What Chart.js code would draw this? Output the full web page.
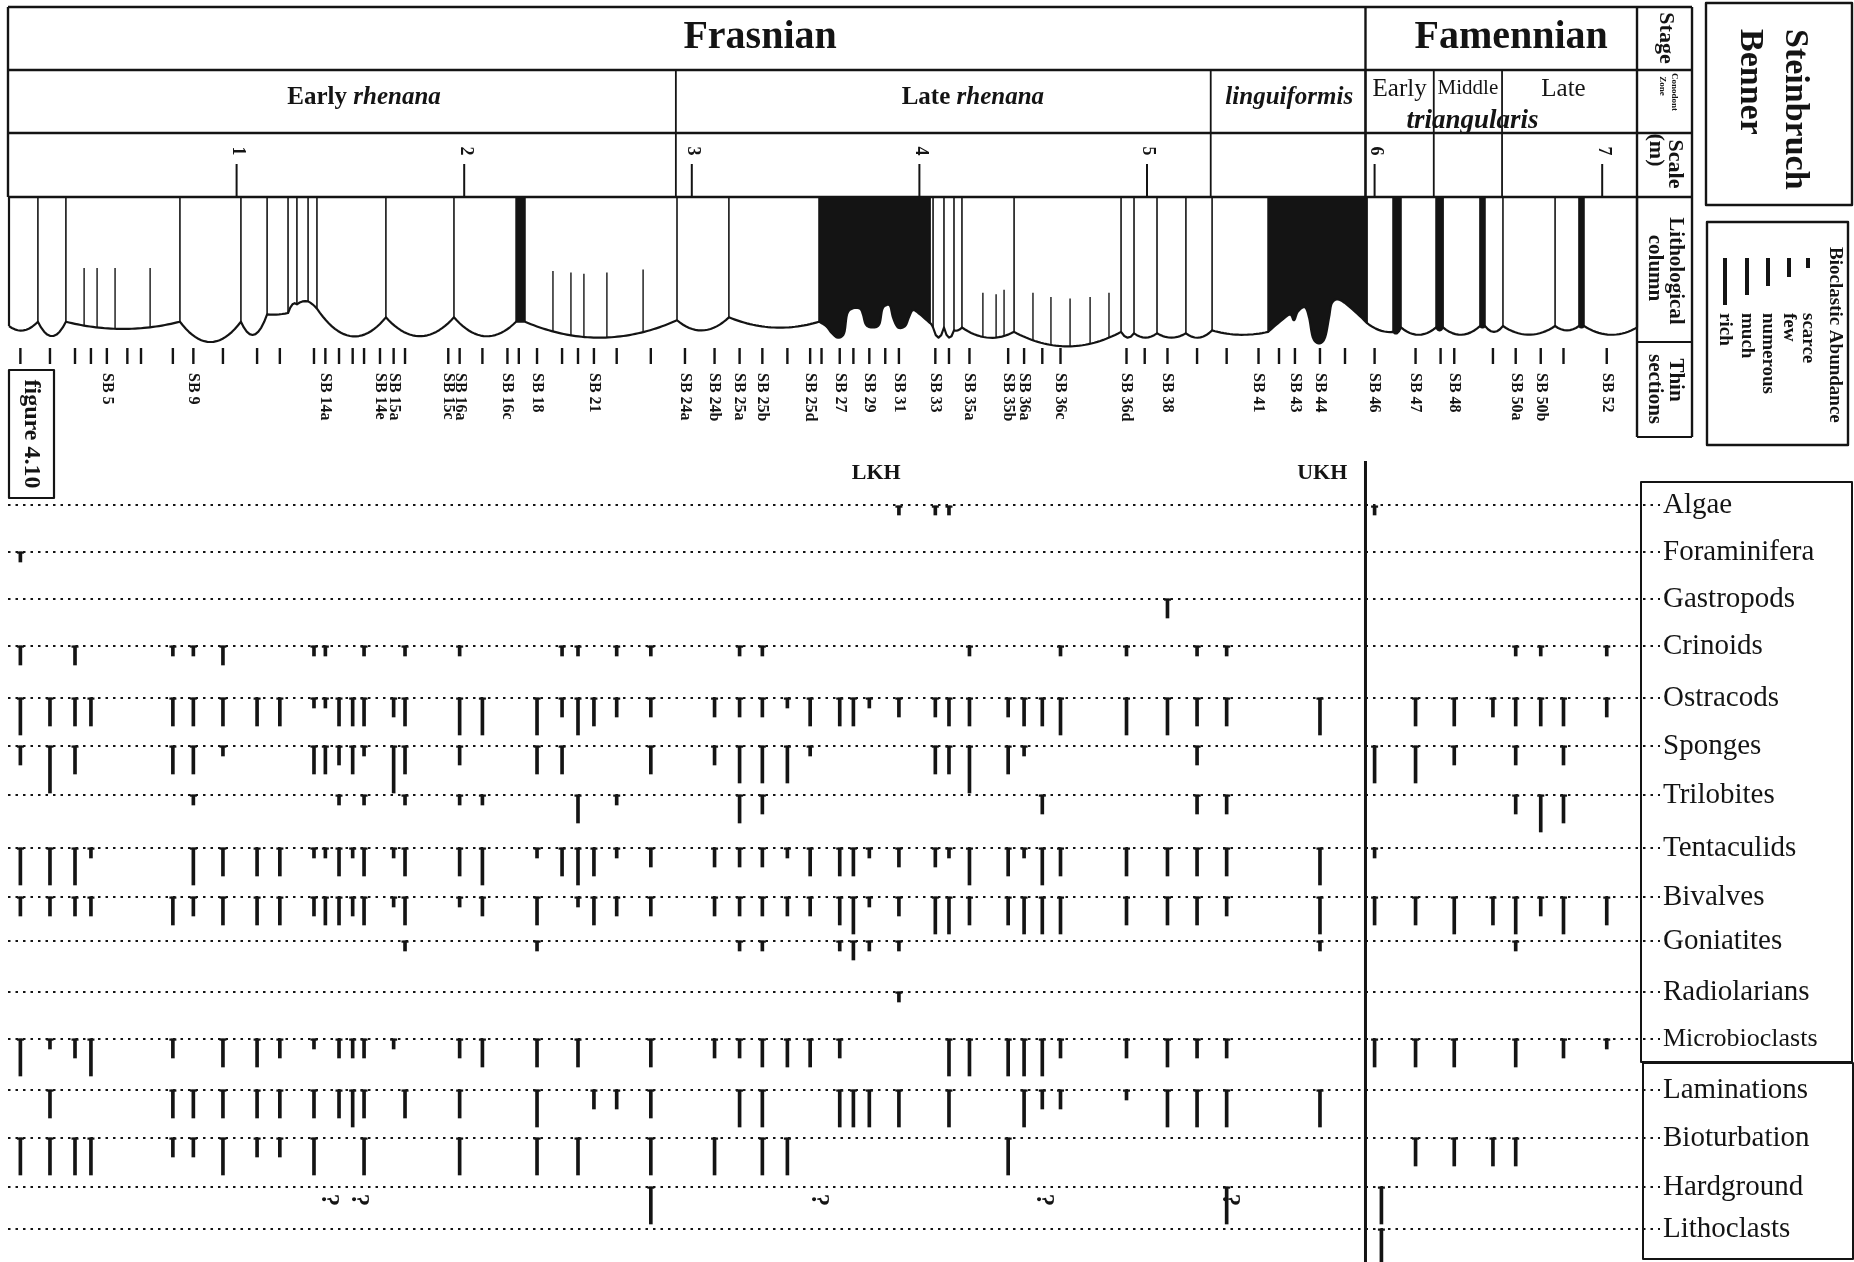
<!DOCTYPE html>
<html>
<head>
<meta charset="utf-8">
<script src="https://cdn.jsdelivr.net/npm/chart.js@4.4.1/dist/chart.umd.min.js"></script>
<style>
html,body{margin:0;padding:0;background:#fff;}
#wrap{width:1854px;height:1262px;position:relative;}
</style>
</head>
<body>
<div id="wrap"><canvas id="c" width="1854" height="1262"></canvas></div>
<script>
// ---------------- DATA (positions along section in metres) ----------------
const rowNames = ['Algae','Foraminifera','Gastropods','Crinoids','Ostracods','Sponges','Trilobites','Tentaculids','Bivalves','Goniatites','Radiolarians','Microbioclasts','Laminations','Bioturbation','Hardground','Lithoclasts'];
const abundanceNames = ['scarce','few','numerous','much','rich'];

// thin-section sample positions (m)
const sampleX = [0.05,0.18,0.29,0.36,0.43,0.52,0.58,0.72,0.81,0.94,1.09,1.19,1.34,1.39,1.45,1.51,1.56,1.63,1.69,1.74,1.93,1.98,2.08,2.19,2.24,2.32,2.43,2.50,2.57,2.67,2.82,2.97,3.10,3.21,3.31,3.42,3.52,3.57,3.65,3.71,3.78,3.85,3.91,4.07,4.13,4.22,4.39,4.46,4.54,4.62,4.91,4.99,5.09,5.22,5.35,5.49,5.58,5.65,5.76,5.87,6.00,6.18,6.29,6.35,6.52,6.62,6.73,6.83,7.02];
const sectionNames = ['SB 5','SB 9','SB 14a','SB 14e','SB 15a','SB 15c','SB 16a','SB 16c','SB 18','SB 21','SB 24a','SB 24b','SB 25a','SB 25b','SB 25d','SB 27','SB 29','SB 31','SB 33','SB 35a','SB 35b','SB 36a','SB 36c','SB 36d','SB 38','SB 41','SB 43','SB 44','SB 46','SB 47','SB 48','SB 50a','SB 50b','SB 52'];
const sectionAt = [0.43,0.81,1.39,1.63,1.69,1.93,1.98,2.19,2.32,2.57,2.97,3.10,3.21,3.31,3.52,3.65,3.78,3.91,4.07,4.22,4.39,4.46,4.62,4.91,5.09,5.49,5.65,5.76,6.00,6.18,6.35,6.62,6.73,7.02];

// abundance per row: [position m, level 1..5 = scarce..rich]
const algae = [[3.91,1],[4.07,1],[4.13,1],[6.00,1]];
const foraminifera = [[0.05,1]];
const gastropods = [[5.09,2]];
const crinoids = [[0.05,2],[0.29,2],[0.72,1],[0.81,1],[0.94,2],[1.34,1],[1.39,1],[1.56,1],[1.74,1],[1.98,1],[2.43,1],[2.50,1],[2.67,1],[2.82,1],[3.21,1],[3.31,1],[4.22,1],[4.62,1],[4.91,1],[5.22,1],[5.35,1],[6.62,1],[6.73,1],[7.02,1]];
const ostracods = [[0.05,4],[0.18,3],[0.29,3],[0.36,3],[0.72,3],[0.81,3],[0.94,3],[1.09,3],[1.19,3],[1.34,1],[1.39,1],[1.45,3],[1.51,3],[1.56,3],[1.69,2],[1.74,3],[1.98,4],[2.08,4],[2.32,4],[2.43,2],[2.50,4],[2.57,3],[2.67,2],[2.82,2],[3.10,2],[3.21,2],[3.31,2],[3.42,1],[3.52,3],[3.65,3],[3.71,3],[3.78,1],[3.91,2],[4.07,2],[4.13,3],[4.22,3],[4.39,2],[4.46,3],[4.54,3],[4.62,4],[4.91,4],[5.09,4],[5.22,3],[5.35,3],[5.76,4],[6.18,3],[6.35,3],[6.52,2],[6.62,3],[6.73,3],[6.83,3],[7.02,2]];
const sponges = [[0.05,2],[0.18,5],[0.29,3],[0.72,3],[0.81,3],[0.94,1],[1.34,3],[1.39,3],[1.45,2],[1.51,3],[1.56,1],[1.69,5],[1.74,3],[1.98,2],[2.32,3],[2.43,3],[2.82,3],[3.10,2],[3.21,4],[3.31,4],[3.42,4],[3.52,1],[4.07,3],[4.13,3],[4.22,5],[4.39,3],[4.46,1],[5.22,2],[6.00,4],[6.18,4],[6.35,2],[6.62,2],[6.83,2]];
const trilobites = [[0.81,1],[1.45,1],[1.56,1],[1.74,1],[1.98,1],[2.08,1],[2.50,3],[2.67,1],[3.21,3],[3.31,2],[4.54,2],[5.22,2],[5.35,2],[6.62,2],[6.73,4],[6.83,3]];
const tentaculids = [[0.05,4],[0.18,4],[0.29,4],[0.36,1],[0.81,4],[0.94,3],[1.09,3],[1.19,3],[1.34,1],[1.39,1],[1.45,3],[1.51,1],[1.56,3],[1.69,1],[1.74,3],[1.98,3],[2.08,4],[2.32,1],[2.43,3],[2.50,4],[2.57,3],[2.67,1],[2.82,2],[3.10,2],[3.21,2],[3.31,2],[3.42,1],[3.52,3],[3.65,3],[3.71,3],[3.78,1],[3.91,2],[4.07,2],[4.13,1],[4.22,4],[4.39,3],[4.46,1],[4.54,4],[4.62,3],[4.91,3],[5.09,3],[5.22,3],[5.35,3],[5.76,4],[6.00,1]];
const bivalves = [[0.05,2],[0.18,2],[0.29,2],[0.36,2],[0.72,3],[0.81,2],[0.94,3],[1.09,3],[1.19,3],[1.34,2],[1.39,3],[1.45,3],[1.51,2],[1.56,3],[1.69,1],[1.74,3],[1.98,1],[2.08,2],[2.32,3],[2.50,1],[2.57,3],[2.67,2],[2.82,2],[3.10,2],[3.21,2],[3.31,2],[3.42,2],[3.52,2],[3.65,3],[3.71,4],[3.78,1],[3.91,2],[4.07,4],[4.13,4],[4.22,3],[4.39,3],[4.46,4],[4.54,4],[4.62,4],[4.91,3],[5.09,3],[5.22,3],[5.35,2],[5.76,4],[6.00,3],[6.18,3],[6.35,4],[6.52,3],[6.62,4],[6.73,2],[6.83,4],[7.02,3]];
const goniatites = [[1.74,1],[2.32,1],[3.21,1],[3.31,1],[3.65,1],[3.71,2],[3.78,1],[3.91,1],[5.76,1],[6.62,1]];
const radiolarians = [[3.91,1]];
const microbioclasts = [[0.05,4],[0.18,1],[0.29,2],[0.36,4],[0.72,2],[0.94,3],[1.09,3],[1.19,2],[1.34,1],[1.45,2],[1.51,2],[1.56,2],[1.69,1],[1.98,2],[2.08,3],[2.32,3],[2.50,3],[2.82,3],[3.10,2],[3.21,2],[3.31,3],[3.42,3],[3.52,3],[3.65,2],[4.13,4],[4.22,4],[4.39,4],[4.46,4],[4.54,4],[4.62,2],[4.91,2],[5.09,3],[5.22,2],[5.35,2],[6.00,3],[6.18,3],[6.35,3],[6.62,3],[6.83,2],[7.02,1]];
const laminations = [[0.18,3],[0.72,3],[0.81,3],[0.94,3],[1.09,3],[1.19,3],[1.34,3],[1.45,3],[1.51,4],[1.56,3],[1.74,3],[1.98,3],[2.32,4],[2.57,2],[2.67,2],[2.82,3],[3.21,4],[3.31,4],[3.65,4],[3.71,4],[3.78,4],[3.91,4],[4.13,4],[4.46,4],[4.54,2],[4.62,2],[4.91,1],[5.09,4],[5.22,4],[5.35,4],[5.76,4]];
const bioturbation = [[0.05,4],[0.18,4],[0.29,4],[0.36,4],[0.72,2],[0.81,2],[0.94,4],[1.09,2],[1.19,2],[1.34,4],[1.56,4],[1.98,4],[2.32,4],[2.50,4],[2.82,4],[3.10,4],[3.31,4],[3.42,4],[4.39,4],[6.18,3],[6.35,3],[6.52,3],[6.62,3]];
const hardground = [[2.82,4],[5.35,4],[6.03,4]];
const lithoclasts = [[6.03,5]];
const hardgroundUncertain = [1.40,1.53,3.55,4.54,5.36];

// stratigraphy
const stageNames = ['Frasnian','Famennian'];
const stageBounds = [0, 5.96, 7.153];
const stageLabelAt = [3.30, 6.60];
const zoneBounds = [0, 2.93, 5.28, 5.96, 6.26, 6.56, 7.153];
const scaleMarks = [1,2,3,4,5,6,7];
const boundaryAt = 5.96;
const eventNames = ['LKH','UKH'];
const eventAt = [3.81, 5.77];

// lithological column: bed edges (m), base depth at edges and bed middles (fraction of column)
const bedEdges = [0.000,0.127,0.250,0.751,1.019,1.134,1.226,1.265,1.314,1.353,1.656,1.955,2.228,2.267,2.935,3.163,3.559,4.047,4.060,4.108,4.152,4.187,4.416,4.886,4.943,5.044,5.171,5.286,5.532,5.967,6.081,6.116,6.270,6.301,6.463,6.485,6.564,6.793,6.898,6.920,7.153];
const edgeDepth = [0.89,0.86,0.86,0.86,0.86,0.81,0.80,0.74,0.72,0.77,0.83,0.83,0.86,0.86,0.85,0.83,0.86,0.87,0.90,0.90,0.92,0.90,0.93,0.93,0.94,0.94,0.94,0.92,0.93,0.87,0.93,0.90,0.90,0.90,0.89,0.89,0.89,0.89,0.89,0.89,0.90];
const bedSag = [0.92,0.96,0.91,1.00,0.95,0.81,0.74,0.72,0.74,0.96,0.96,0.96,0.86,0.97,0.92,0.90,null,0.88,0.97,0.97,0.92,0.97,1.03,0.97,0.97,0.97,0.97,0.95,null,0.92,0.94,0.95,0.92,0.95,0.90,0.93,0.95,0.92,0.90,0.95];
const shaleFrom = [2.228,3.559,5.532,6.081,6.270,6.463,6.898];
const shaleTo   = [2.267,4.047,5.967,6.116,6.301,6.485,6.920];
const lkhBase = [[3.559,0.86],[3.590,0.89],[3.616,0.94],[3.642,0.97],[3.669,0.94],[3.682,0.81],[3.704,0.77],[3.739,0.77],[3.752,0.81],[3.765,0.88],[3.792,0.90],[3.823,0.88],[3.836,0.78],[3.849,0.75],[3.871,0.75],[3.884,0.83],[3.906,0.90],[3.937,0.89],[3.954,0.83],[3.972,0.78],[4.003,0.81],[4.047,0.87]];
const ukhBase = [[5.532,0.93],[5.584,0.86],[5.628,0.81],[5.646,0.85],[5.663,0.79],[5.694,0.76],[5.712,0.83],[5.729,0.97],[5.756,1.01],[5.782,0.97],[5.800,0.83],[5.813,0.73],[5.848,0.71],[5.914,0.79],[5.967,0.87]];
const innerX   = [0.330,0.387,0.466,0.620,2.390,2.469,2.526,2.627,2.786,4.279,4.337,4.372,4.499,4.578,4.662,4.750,4.833];
const innerTop = [0.49,0.49,0.49,0.49,0.51,0.52,0.53,0.52,0.50,0.66,0.67,0.64,0.66,0.69,0.70,0.69,0.66];

// ---------------- STYLE / LAYOUT ----------------
const INK = '#141414';
const SERIF = '"Liberation Serif","Times New Roman",serif';
const LEVEL_PX = [0, 10, 19, 28, 37, 47];
const ROW_TOP_PX = 505, ROW_BOT_PX = 1229;
const ROW_LINE_PX = [505,552,599,646,698,746,795,848,897,941,992,1039,1090,1138,1187,1229];
const ROW_PX = (ROW_BOT_PX - ROW_TOP_PX) / 15;
const rowPos = ROW_LINE_PX.map(p => (p - ROW_TOP_PX) / ROW_PX);
const TOP = 7, Y_ZONE = 70, Y_SCALE = 133, Y_LITH = 197, LITH_H = 145, Y_THIN = 342, Y_THIN_BOT = 437;

const rows = [algae,foraminifera,gastropods,crinoids,ostracods,sponges,trilobites,tentaculids,bivalves,goniatites,radiolarians,microbioclasts,laminations,bioturbation,hardground,lithoclasts];

const datasets = rows.map((r, i) => ({
  label: rowNames[i],
  data: r.map(([x, lvl]) => ({ x: x, y: [rowPos[i], rowPos[i] + LEVEL_PX[lvl] / ROW_PX] })),
  backgroundColor: INK,
  borderWidth: 0,
  barThickness: 3,
  grouped: false,
  clip: false
}));
const rowIndexOf = v => rowPos.findIndex(p => Math.abs(p - v) < 1e-6);

function rtext(c, s, x, y, font, align) {
  c.save(); c.translate(x, y); c.rotate(Math.PI / 2);
  c.font = font; c.textAlign = align || 'left'; c.textBaseline = 'middle';
  c.fillText(s, 0, 0); c.restore();
}
function seg(c, x1, y1, x2, y2, w) {
  c.lineWidth = w; c.beginPath(); c.moveTo(x1, y1); c.lineTo(x2, y2); c.stroke();
}
function mixed(c, parts, cx, y) {
  let w = 0;
  parts.forEach(p => { c.font = p[1]; w += c.measureText(p[0]).width; });
  let x = cx - w / 2;
  c.textAlign = 'left'; c.textBaseline = 'middle';
  parts.forEach(p => { c.font = p[1]; c.fillText(p[0], x, y); x += c.measureText(p[0]).width; });
}
function densify(pts, n) {
  const out = [];
  for (let i = 0; i < pts.length - 1; i++) {
    const p0 = pts[Math.max(i - 1, 0)], p1 = pts[i], p2 = pts[i + 1], p3 = pts[Math.min(i + 2, pts.length - 1)];
    for (let k = 0; k < n; k++) {
      const t = k / n, t2 = t * t, t3 = t2 * t;
      const f = (a, b, cc, d) => 0.5 * (2 * b + (-a + cc) * t + (2 * a - 5 * b + 4 * cc - d) * t2 + (-a + 3 * b - 3 * cc + d) * t3);
      out.push([f(p0[0], p1[0], p2[0], p3[0]), f(p0[1], p1[1], p2[1], p3[1])]);
    }
  }
  out.push(pts[pts.length - 1]);
  return out;
}

// small serif cap on top of every abundance bar
const capPlugin = {
  id: 'caps',
  afterDatasetsDraw(chart) {
    const c = chart.ctx;
    c.save(); c.fillStyle = INK;
    chart.data.datasets.forEach((ds, i) => {
      chart.getDatasetMeta(i).data.forEach(el => {
        const top = Math.min(el.y, el.base);
        c.fillRect(el.x - 3.5, top - 0.5, 7, 2.2);
      });
    });
    c.restore();
  }
};

const figPlugin = {
  id: 'fig',
  beforeDraw(chart) {
    const c = chart.ctx; c.save(); c.fillStyle = '#fff'; c.fillRect(0, 0, chart.width, chart.height); c.restore();
  },
  afterDraw(chart) {
    const c = chart.ctx, xs = chart.scales.x, ys = chart.scales.y;
    const X = v => xs.getPixelForValue(v);
    const PY = d => Y_LITH + d * LITH_H;
    c.save();
    c.strokeStyle = INK; c.fillStyle = INK; c.lineCap = 'butt';

    const L = 8, R = X(stageBounds[2]), RC = R + 55;

    // ---- lithological column ----
    const ex = bedEdges.map(X);
    const lkh = densify(lkhBase.map(([m, d]) => [X(m), PY(d)]), 6);
    const ukh = densify(ukhBase.map(([m, d]) => [X(m), PY(d)]), 6);
    function interp(pts, px) {
      for (let k = 0; k < pts.length - 1; k++) {
        if (px >= pts[k][0] && px <= pts[k + 1][0]) {
          const t = (px - pts[k][0]) / ((pts[k + 1][0] - pts[k][0]) || 1);
          return pts[k][1] + t * (pts[k + 1][1] - pts[k][1]);
        }
      }
      return pts[pts.length - 1][1];
    }
    function baseY(px) {
      for (let i = 0; i < ex.length - 1; i++) {
        if (px <= ex[i + 1] + 0.01) {
          if (bedSag[i] === null) return interp(bedEdges[i] < 4.5 ? lkh : ukh, px);
          const t = Math.max(0, Math.min(1, (px - ex[i]) / (ex[i + 1] - ex[i])));
          const y0 = PY(edgeDepth[i]), y1 = PY(edgeDepth[i + 1]), s = PY(bedSag[i]);
          const cp = 2 * s - (y0 + y1) / 2;
          return (1 - t) * (1 - t) * y0 + 2 * t * (1 - t) * cp + t * t * y1;
        }
      }
      return PY(edgeDepth[edgeDepth.length - 1]);
    }
    const prof = [];
    for (let i = 0; i < ex.length - 1; i++) {
      if (bedSag[i] === null) {
        (bedEdges[i] < 4.5 ? lkh : ukh).forEach(p => prof.push(p));
      } else {
        const n = Math.max(4, Math.round((ex[i + 1] - ex[i]) / 3));
        for (let k = 0; k <= n; k++) { const px = ex[i] + (ex[i + 1] - ex[i]) * k / n; prof.push([px, baseY(px)]); }
      }
    }
    for (let s = 0; s < shaleFrom.length; s++) {
      const a = X(shaleFrom[s]), b = X(shaleTo[s]);
      const pts = prof.filter(p => p[0] >= a - 0.05 && p[0] <= b + 0.05);
      c.beginPath(); c.moveTo(a, Y_LITH); c.lineTo(b, Y_LITH);
      for (let k = pts.length - 1; k >= 0; k--) c.lineTo(pts[k][0], pts[k][1]);
      c.closePath(); c.fill();
    }
    c.lineWidth = 2.2; c.lineJoin = 'round'; c.beginPath();
    prof.forEach((p, k) => k ? c.lineTo(p[0], p[1]) : c.moveTo(p[0], p[1]));
    c.stroke();
    ex.forEach((px, k) => seg(c, px, Y_LITH, px, baseY(px), (k === 0 || k === ex.length - 1) ? 2.2 : 1.6));
    innerX.forEach((m, k) => seg(c, X(m), PY(innerTop[k]), X(m), baseY(X(m)), 1.4));

    // ---- header frame ----
    [TOP, Y_ZONE, Y_SCALE, Y_LITH].forEach(y => seg(c, L, y, RC, y, 2.4));
    seg(c, R, Y_THIN, RC, Y_THIN, 2.2); seg(c, R, Y_THIN_BOT, RC, Y_THIN_BOT, 2.2);
    seg(c, L, TOP, L, Y_LITH, 2.4);
    seg(c, R, TOP, R, Y_THIN_BOT, 2.4); seg(c, RC, TOP, RC, Y_THIN_BOT, 2.4);
    seg(c, X(stageBounds[1]), TOP, X(stageBounds[1]), Y_LITH, 2.4);
    zoneBounds.slice(1, -1).forEach(b => seg(c, X(b), Y_ZONE, X(b), Y_LITH, 1.8));

    c.textAlign = 'center'; c.textBaseline = 'middle';
    c.font = 'bold 40px ' + SERIF;
    stageNames.forEach((s, i) => c.fillText(s, X(stageLabelAt[i]), 38));
    const B = 'bold 25px ' + SERIF, BI = 'italic bold 25px ' + SERIF;
    mixed(c, [['Early ', B], ['rhenana', BI]], X(1.56), 98);
    mixed(c, [['Late ', B], ['rhenana', BI]], X(4.235), 98);
    mixed(c, [['linguiformis', BI]], X(5.625), 98);
    mixed(c, [['Early', '25px ' + SERIF]], X(6.11), 89);
    mixed(c, [['Middle', '21px ' + SERIF]], X(6.41), 88);
    mixed(c, [['Late', '25px ' + SERIF]], X(6.83), 89);
    mixed(c, [['triangularis', 'italic bold 27px ' + SERIF]], X(6.43), 121);
    scaleMarks.forEach(m => {
      seg(c, X(m), 164, X(m), Y_LITH, 2);
      rtext(c, String(m), X(m) + 1, 151, 'bold 18px ' + SERIF, 'center');
    });
    sampleX.forEach(m => seg(c, X(m), 348, X(m), 364, 2.4));
    sectionNames.forEach((s, i) => rtext(c, s, X(sectionAt[i]), 373, 'bold 16px ' + SERIF, 'left'));

    rtext(c, 'Stage', R + 29, 38, 'bold 22px ' + SERIF, 'center');
    rtext(c, 'Conodont', R + 37, 92, 'bold 9px ' + SERIF, 'center');
    rtext(c, 'Zone', R + 25, 86, 'bold 9px ' + SERIF, 'center');
    rtext(c, 'Scale', R + 38, 164, 'bold 22px ' + SERIF, 'center');
    rtext(c, '(m)', R + 19, 150, 'bold 22px ' + SERIF, 'center');
    rtext(c, 'Lithological', R + 38, 271, 'bold 21px ' + SERIF, 'center');
    rtext(c, 'column', R + 17, 268, 'bold 21px ' + SERIF, 'center');
    rtext(c, 'Thin', R + 38, 380, 'bold 21px ' + SERIF, 'center');
    rtext(c, 'sections', R + 17, 389, 'bold 21px ' + SERIF, 'center');

    c.lineWidth = 2.4; c.strokeRect(1706, 3, 146, 202);
    rtext(c, 'Steinbruch', 1795, 29, 'bold 34px ' + SERIF, 'left');
    rtext(c, 'Benner', 1750, 29, 'bold 34px ' + SERIF, 'left');
    c.strokeRect(1707, 222, 141, 223);
    rtext(c, 'Bioclastic Abundance', 1835, 247, 'bold 19px ' + SERIF, 'left');
    const legX = [1808, 1789, 1768, 1747, 1725];
    abundanceNames.forEach((s, i) => {
      c.fillRect(legX[i] - 2, 258, 4, LEVEL_PX[i + 1]);
      rtext(c, s, legX[i], 313, 'bold 19px ' + SERIF, 'left');
    });

    c.lineWidth = 2.2; c.strokeRect(9, 370, 45, 128);
    rtext(c, 'figure 4.10', 31, 434, 'bold 24px ' + SERIF, 'center');

    c.font = 'bold 22px ' + SERIF; c.textAlign = 'center'; c.textBaseline = 'middle';
    eventNames.forEach((s, i) => c.fillText(s, X(eventAt[i]), 473));

    seg(c, X(boundaryAt), 461, X(boundaryAt), chart.height, 3);

    const yH = ys.getPixelForValue(rowPos[rowNames.indexOf('Hardground')]);
    hardgroundUncertain.forEach(m => rtext(c, '?', X(m) + 1, yH + 13, 'bold 25px ' + SERIF, 'center'));

    c.lineWidth = 2; c.strokeRect(1641, 482, 211, 580); c.strokeRect(1643, 1063, 210, 196);
    c.restore();
  }
};

new Chart(document.getElementById('c'), {
  type: 'bar',
  data: { datasets: datasets },
  plugins: [capPlugin, figPlugin],
  options: {
    responsive: false,
    maintainAspectRatio: false,
    animation: false,
    devicePixelRatio: 1,
    layout: { padding: { left: 8, top: ROW_TOP_PX, right: 0, bottom: 1262 - ROW_BOT_PX } },
    plugins: { legend: { display: false }, tooltip: { enabled: false } },
    scales: {
      x: { type: 'linear', min: -0.0044, max: 7.254, offset: false, display: false, grid: { display: false } },
      y: {
        type: 'linear', position: 'right', reverse: true, min: 0, max: 15,
        afterFit(s) { s.width = 194; },
        afterBuildTicks(s) { s.ticks = rowPos.map(v => ({ value: v })); },
        ticks: {
          autoSkip: false, padding: 3, color: INK,
          callback: v => rowNames[rowIndexOf(v)],
          font: ctx => ({ family: SERIF, size: (ctx.tick && rowIndexOf(ctx.tick.value) === 11 ? 26 : 29) })
        },
        grid: { color: INK, lineWidth: 2, drawTicks: false },
        border: { display: false, dash: [2.5, 5] }
      }
    }
  }
});
</script>
</body>
</html>
